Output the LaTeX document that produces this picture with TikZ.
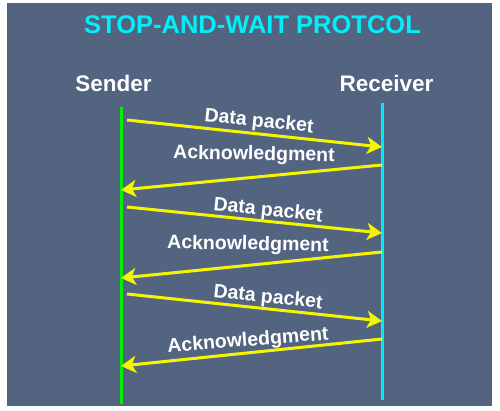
\documentclass[tikz,border=0pt]{standalone}
\usepackage{fontspec}
\setmainfont{Liberation Sans}
\usetikzlibrary{arrows.meta}
\definecolor{bgblue}{RGB}{82,100,128}
\definecolor{ttlcyan}{RGB}{0,240,250}
\definecolor{lgreen}{RGB}{0,240,0}
\definecolor{lcyan}{RGB}{0,235,245}
\definecolor{ayellow}{RGB}{245,245,0}
\tikzset{
  msg/.style={draw=ayellow, line width=3pt, -{Stealth[length=15pt,width=17pt,inset=4pt]}},
  lbl/.style={text=white, font=\bfseries\fontsize{19.5}{21}\selectfont, inner sep=0pt},
  hdr/.style={text=white, font=\bfseries\fontsize{22.5}{25}\selectfont, inner sep=0pt},
}
\begin{document}
\begin{tikzpicture}[x=1pt,y=-1pt]
\useasboundingbox (0,0) rectangle (500,411);
\fill[white] (0,0) rectangle (500,411);
\fill[bgblue] (7,3) rectangle (492,406);
\node[text=ttlcyan, font=\bfseries\fontsize{25.5}{28}\selectfont, inner sep=0pt] (title) at (252.5,25) {STOP-AND-WAIT PROTCOL};
\node[hdr] (sender) at (113.5,83) {Sender};
\node[hdr] (receiver) at (386.5,83) {Receiver};
\coordinate (stop) at (121,107);
\coordinate (sbot) at (121,404);
\coordinate (rtop) at (382,103);
\coordinate (rbot) at (382,400);
\draw[lgreen, line width=3pt] (stop) -- (sbot);
\draw[lcyan, line width=3pt] (rtop) -- (rbot);
% message endpoints
\coordinate (d1s) at (127,120); \coordinate (d1e) at (382,147);
\coordinate (a1s) at (382,165); \coordinate (a1e) at (121,190);
\coordinate (d2s) at (127,207); \coordinate (d2e) at (382,233);
\coordinate (a2s) at (382,252); \coordinate (a2e) at (121,278);
\coordinate (d3s) at (127,294); \coordinate (d3e) at (382,321);
\coordinate (a3s) at (382,339); \coordinate (a3e) at (121,366);
\draw[msg] (d1s) -- (d1e);
\draw[msg] (a1s) -- (a1e);
\draw[msg] (d2s) -- (d2e);
\draw[msg] (a2s) -- (a2e);
\draw[msg] (d3s) -- (d3e);
\draw[msg] (a3s) -- (a3e);
\node[lbl, rotate=-6] (l1) at (259,122) {Data packet};
\node[lbl, rotate=-1] (l2) at (254,155) {Acknowledgment};
\node[lbl, rotate=-6] (l3) at (268,211) {Data packet};
\node[lbl, rotate=-1] (l4) at (248,245) {Acknowledgment};
\node[lbl, rotate=-6] (l5) at (268,298) {Data packet};
\node[lbl, rotate=4.5] (l6) at (248,341) {Acknowledgment};
\end{tikzpicture}
\end{document}
